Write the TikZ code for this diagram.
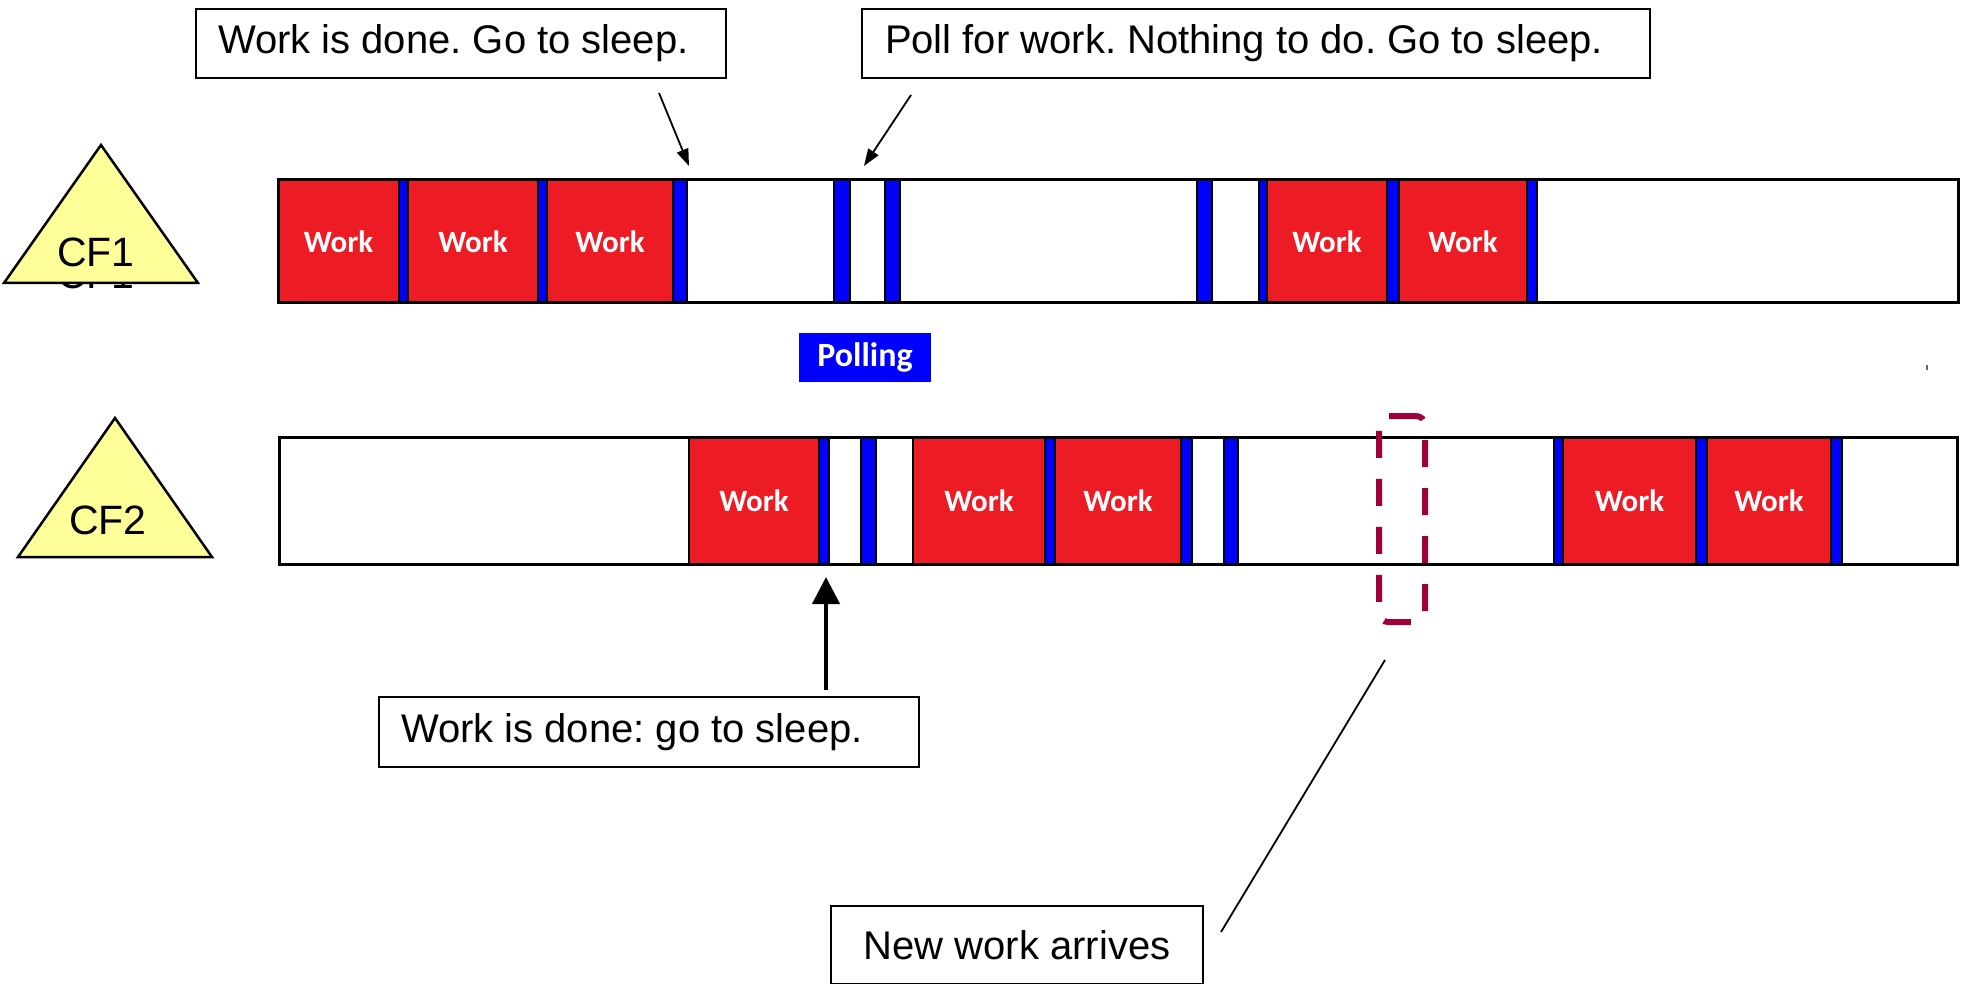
\documentclass[tikz,border=0pt]{standalone}
\usepackage{fontspec}
\setmainfont{Liberation Sans}
\newfontfamily\labelfont{Carlito}
\usetikzlibrary{arrows.meta}

\definecolor{workred}{RGB}{237,28,36}
\definecolor{pollblue}{RGB}{0,0,255}
\definecolor{cfyellow}{RGB}{255,255,153}
\definecolor{markred}{RGB}{158,0,57}

\begin{document}
\frenchspacing
\begin{tikzpicture}[x=1pt,y=-1pt,
  every node/.style={inner sep=0pt, outer sep=0pt},
  note/.style={draw=black, line width=2.5pt, fill=white, anchor=north west,
    inner ysep=0pt, font=\fontsize{40}{46}\selectfont},
  tri/.style={draw=black, line width=2.5pt, fill=cfyellow, line join=miter},
  cflabel/.style={font=\fontsize{41}{46}\selectfont},
  workblk/.style={draw=black, line width=1.5pt, fill=workred, text=white,
    font=\labelfont\bfseries\fontsize{31}{34}\selectfont},
  pollblk/.style={draw=black, line width=1.2pt, fill=pollblue},
  barframe/.style={draw=black, line width=3pt},
  thinarrow/.style={line width=1.8pt, -{Triangle[length=17pt,width=12pt]}},
  bigarrow/.style={line width=4pt, -{Triangle[length=27pt,width=27pt]}},
  marker/.style={draw=markred, line width=6pt, dash pattern=on 27pt off 21pt,
    rounded corners=9pt},
]
\useasboundingbox (0,0) rectangle (1963,984);
\clip (0,0) rectangle (1963,984);

% ---------- call-out boxes ----------
\node[note, inner xsep=22pt, minimum height=69pt]
  (done1) at (196,9) {\makebox[486pt][l]{Work is done. Go to sleep.}};
\node[note, inner xsep=23pt, minimum height=69pt]
  (poll1) at (862,9) {\makebox[742pt][l]{Poll for work. Nothing to do. Go to sleep.}};
\node[note, inner xsep=22pt, minimum height=70pt]
  (done2) at (379,697) {\makebox[496pt][l]{Work is done: go to sleep.}};
\node[note, inner xsep=31pt, minimum height=78pt]
  (newwork) at (831,906) {\makebox[310pt][c]{New work arrives}};

% ---------- CF1 ----------
\node[cflabel, anchor=base] (cf1shadow) at (96,289) {CF1};
\draw[tri] (4,283) -- (101,145) -- (198,283) -- cycle;
\node[cflabel] (cf1) at (96,252) {CF1};

\def\ya{180}\def\yb{303}
\foreach \n/\a/\b in {w11/278/399, w12/408/538, w13/547/673, w14/1267/1387, w15/1399/1527}
  \node[workblk, minimum width={\b-\a}, minimum height={\yb-\ya}]
    (\n) at ({(\a+\b)/2},{(\ya+\yb)/2}) {Work};
\foreach \n/\a/\b in {p11/399/408, p12/538/547, p13/673/687, p14/834/850,
    p15/885/900, p16/1197/1212, p17/1259/1267, p18/1387/1399, p19/1527/1537}
  \node[pollblk, minimum width={\b-\a}, minimum height={\yb-\ya}]
    (\n) at ({(\a+\b)/2},{(\ya+\yb)/2}) {};
\node[barframe, anchor=north west, minimum width=1680pt, minimum height=123pt]
  (bar1) at (278,180) {};

\node[fill=pollblue, text=white, minimum width=132pt, minimum height=49pt,
  font=\labelfont\bfseries\fontsize{34}{38}\selectfont] (polling) at (865,357.5) {Polling};

\fill[black!60] (1926,365) rectangle (1928,370);

% ---------- CF2 ----------
\draw[tri] (18,557) -- (115,418) -- (212,557) -- cycle;
\node[cflabel] (cf2) at (108,520) {CF2};

\def\ya{437}\def\yb{564}
\foreach \n/\a/\b in {w21/689/819, w22/913/1045, w23/1055/1181, w24/1563/1696, w25/1707/1831}
  \node[workblk, minimum width={\b-\a}, minimum height={\yb-\ya}]
    (\n) at ({(\a+\b)/2},{(\ya+\yb)/2}) {Work};
\foreach \n/\a/\b in {p21/819/829, p22/861/876, p23/1045/1055, p24/1181/1192,
    p25/1224/1238, p26/1554/1563, p27/1696/1707, p28/1831/1842}
  \node[pollblk, minimum width={\b-\a}, minimum height={\yb-\ya}]
    (\n) at ({(\a+\b)/2},{(\ya+\yb)/2}) {};
\node[barframe, anchor=north west, minimum width=1678pt, minimum height=127pt]
  (bar2) at (279,437) {};

% arrival marker
\node[marker, minimum width=46pt, minimum height=206pt] (arrival) at (1402,519) {};

% ---------- connectors ----------
\coordinate (a1s) at (659,93);  \coordinate (a1e) at (689,166);
\coordinate (a2s) at (911,95);  \coordinate (a2e) at (864,166);
\coordinate (a3s) at (826,690); \coordinate (a3e) at (826,577);
\coordinate (l4s) at (1221,932); \coordinate (l4e) at (1385,660);
\draw[thinarrow] (a1s) -- (a1e);
\draw[thinarrow] (a2s) -- (a2e);
\draw[bigarrow] (a3s) -- (a3e);
\draw[line width=1.8pt] (l4s) -- (l4e);
\end{tikzpicture}
\end{document}
